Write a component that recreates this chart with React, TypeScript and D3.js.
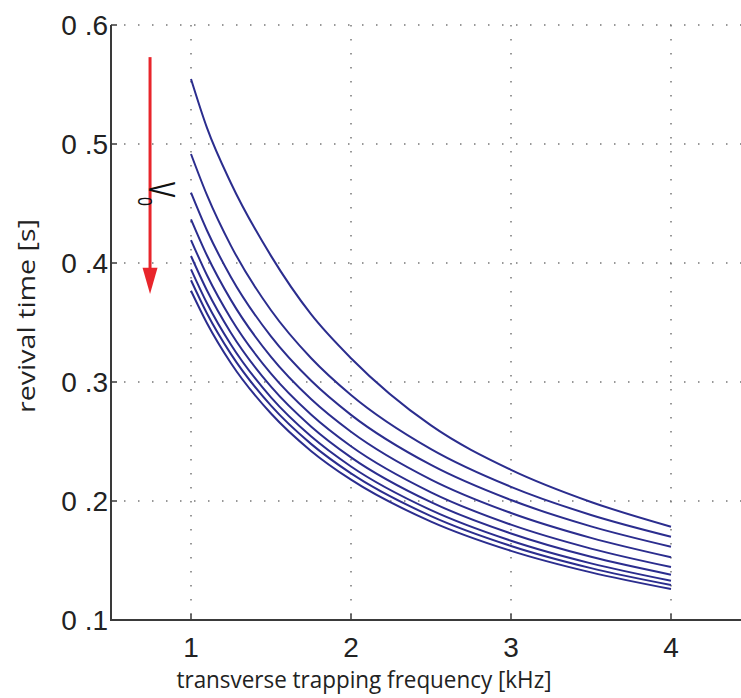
import React from "react";
import * as d3 from "d3";

const frequencies = [1, 1.1, 1.25, 1.5, 1.75, 2, 2.5, 3, 3.5, 4];
const revival1 = [0.5546, 0.5135, 0.467, 0.406, 0.357, 0.32, 0.2635, 0.2262, 0.1992, 0.1784];
const revival2 = [0.4916, 0.457, 0.4144, 0.3603, 0.3202, 0.2891, 0.2436, 0.2119, 0.1883, 0.17];
const revival3 = [0.4591, 0.4273, 0.3881, 0.3383, 0.3012, 0.2724, 0.2303, 0.2008, 0.1787, 0.1616];
const revival4 = [0.4367, 0.4063, 0.3688, 0.3211, 0.2857, 0.2582, 0.218, 0.1899, 0.169, 0.1527];
const revival5 = [0.4193, 0.3897, 0.3532, 0.307, 0.2727, 0.246, 0.2073, 0.1801, 0.16, 0.1445];
const revival6 = [0.4059, 0.3769, 0.3412, 0.2961, 0.2627, 0.2367, 0.199, 0.1727, 0.1531, 0.1381];
const revival7 = [0.3947, 0.3662, 0.3313, 0.2871, 0.2544, 0.229, 0.1923, 0.1666, 0.1476, 0.133];
const revival8 = [0.3855, 0.3576, 0.3234, 0.2801, 0.248, 0.2232, 0.1873, 0.1622, 0.1436, 0.1294];
const revival9 = [0.3767, 0.3494, 0.3158, 0.2735, 0.2421, 0.2179, 0.1827, 0.1581, 0.14, 0.126];
const seriesList = [revival1, revival2, revival3, revival4, revival5, revival6, revival7, revival8, revival9];

const xTicks = [1, 2, 3, 4];
const xTickLabels = ["1", "2", "3", "4"];
const yTicks = [0.1, 0.2, 0.3, 0.4, 0.5, 0.6];
const yTickLabels = ["0 .1", "0 .2", "0 .3", "0 .4", "0 .5", "0 .6"];
const arrowX = 0.744;
const arrowTop = 0.573;
const arrowHeadBase = 0.396;
const arrowTip = 0.374;

const W = 741;
const H = 698;

export default function App() {
  const x = d3.scaleLinear().domain([0.5, 4.5]).range([111, 751]);
  const y = d3.scaleLinear().domain([0.1, 0.6]).range([620, 25]);
  const line = d3
    .line<number>()
    .x((_, i) => x(frequencies[i]))
    .y((d) => y(d))
    .curve(d3.curveMonotoneX);
  const font = "'Liberation Sans', Arial, Helvetica, sans-serif";
  const titleFont = "'Open Sans', 'Noto Sans', sans-serif";
  const gridColor = "#777";
  const axisColor = "#3a3a3a";
  const ax = x(arrowX);
  return (
    <svg width={W} height={H} style={{ position: "absolute", left: 0, top: 0, background: "#fff" }}>
      {/* grid */}
      {xTicks.map((t) => (
        <line key={"gx" + t} x1={x(t)} x2={x(t)} y1={y(0.6)} y2={y(0.1)} stroke={gridColor} strokeWidth={1.5} strokeDasharray="1.5 12.5" />
      ))}
      {yTicks.filter((t) => t > 0.1).map((t) => (
        <line key={"gy" + t} x1={x(0.5)} x2={W} y1={y(t)} y2={y(t)} stroke={gridColor} strokeWidth={1.5} strokeDasharray="1.5 12.5" strokeDashoffset={-13} />
      ))}
      {/* axes */}
      <line x1={x(0.5)} x2={x(0.5)} y1={y(0.6)} y2={y(0.1) + 1} stroke={axisColor} strokeWidth={2} />
      <line x1={x(0.5) - 1} x2={W} y1={y(0.1)} y2={y(0.1)} stroke={axisColor} strokeWidth={2} />
      {yTicks.map((t, i) => (
        <g key={"yt" + t}>
          <line x1={x(0.5)} x2={x(0.5) + 6} y1={y(t)} y2={y(t)} stroke={axisColor} strokeWidth={1.5} />
          <text x={x(0.5) - 3} y={y(t) + 10} textAnchor="end" fontFamily={font} fontSize={28} fill="#222">
            {yTickLabels[i]}
          </text>
        </g>
      ))}
      {xTicks.map((t, i) => (
        <g key={"xt" + t}>
          <line x1={x(t)} x2={x(t)} y1={y(0.1)} y2={y(0.1) - 6} stroke={axisColor} strokeWidth={1.5} />
          <text x={x(t)} y={657} textAnchor="middle" fontFamily={font} fontSize={28} fill="#222">
            {xTickLabels[i]}
          </text>
        </g>
      ))}
      {/* curves */}
      {seriesList.map((s, i) => (
        <path key={"c" + i} d={line(s) || ""} fill="none" stroke="#2b2d8e" strokeWidth={2} />
      ))}
      {/* arrow */}
      <line x1={ax} x2={ax} y1={y(arrowTop)} y2={y(arrowHeadBase) + 2} stroke="#e8252b" strokeWidth={3} />
      <polygon
        points={`${ax - 7.5},${y(arrowHeadBase)} ${ax + 7.5},${y(arrowHeadBase)} ${ax},${y(arrowTip)}`}
        fill="#e8252b"
      />
      <text transform={`translate(${ax - 1},182) rotate(90) scale(0.62,1)`} fontFamily={font} fontSize={37} fill="#111">
        V
      </text>
      <text transform={`translate(${ax - 12},197) rotate(90) scale(0.8,1)`} fontFamily={font} fontSize={20} fill="#111">
        0
      </text>
      {/* titles */}
      <text x={364} y={688} textAnchor="middle" fontFamily={titleFont} fontSize={24} fill="#222" textLength={375} lengthAdjust="spacingAndGlyphs">
        transverse trapping frequency [kHz]
      </text>
      <text transform="translate(35,316) rotate(-90)" textAnchor="middle" fontFamily={titleFont} fontSize={24} fill="#222" textLength={194} lengthAdjust="spacingAndGlyphs">
        revival time [s]
      </text>
    </svg>
  );
}
